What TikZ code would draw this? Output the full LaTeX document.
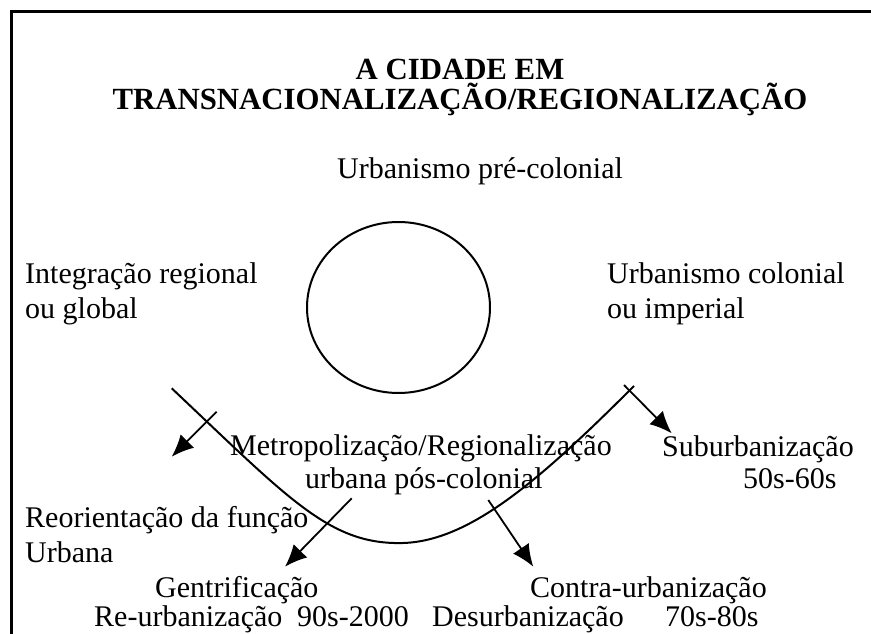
\documentclass[tikz,border=0pt]{standalone}
\usepackage{fontspec}
\setmainfont{Liberation Serif}
\usetikzlibrary{arrows.meta,shapes.geometric}
\begin{document}
\begin{tikzpicture}[x=1pt,y=-1pt,
  txt/.style={inner sep=0pt, anchor=base west, font=\fontsize{30}{35}\selectfont},
  ttl/.style={inner sep=0pt, anchor=base, font=\fontsize{30.8}{36}\selectfont\bfseries},
  arr/.style={line width=1.8pt, -{Latex[length=22pt,width=19pt]}},
  ln/.style={line width=2pt}]
\useasboundingbox (0,0) rectangle (871,634);
% frame
\coordinate (fr1) at (871,11.3);
\coordinate (fr2) at (11.3,11.3);
\coordinate (fr3) at (11.3,634);
\draw[line width=2.7pt] (fr1) -- (fr2) -- (fr3);
% title
\node[ttl] (t1) at (460,80) {A CIDADE EM};
\node[ttl] (t2) at (460,110) {TRANSNACIONALIZAÇÃO/REGIONALIZAÇÃO};
% texts
\node[txt] (pre) at (337,178) {Urbanismo pré-colonial};
\node[txt] (int1) at (25,283) {Integração regional};
\node[txt] (int2) at (25,318) {ou global};
\node[txt] (col1) at (607,283) {Urbanismo colonial};
\node[txt] (col2) at (607,318) {ou imperial};
\node[txt] (met1) at (230,455) {Metropolização/Regionalização};
\node[txt] (met2) at (305,488) {urbana pós-colonial};
\node[txt] (sub1) at (662,456) {Suburbanização};
\node[txt] (sub2) at (743,488) {50s-60s};
\node[txt] (reo1) at (25,527) {Reorientação da função};
\node[txt] (reo2) at (25,562) {Urbana};
\node[txt] (gen1) at (155,597) {Gentrificação};
\node[txt] (gen2) at (94,626) {Re-urbanização};
\node[txt] (gen3) at (297,626) {90s-2000};
\node[txt] (con1) at (530,597) {Contra-urbanização};
\node[txt] (con2) at (432,626) {Desurbanização};
\node[txt] (con3) at (665,626) {70s-80s};
% circle
\node[draw, ellipse, line width=2pt, inner sep=0pt, minimum width=183pt, minimum height=171pt] (circ) at (398.5,307.5) {};
% big curve
\coordinate (cs) at (171.7,388.3);
\coordinate (cb) at (403,543);
\coordinate (ce) at (634,386);
\draw[ln] (cs) .. controls (290,500) and (330,545) .. (cb) .. controls (470,541) and (540,480) .. (ce);
% arrows
\coordinate (a1s) at (216.7,411.7);
\coordinate (a1e) at (171.7,456.7);
\coordinate (a2s) at (351.7,498.3);
\coordinate (a2e) at (285,566.7);
\coordinate (a3s) at (488.3,500);
\coordinate (a3e) at (533.3,566.7);
\coordinate (a4s) at (624,385);
\coordinate (a4e) at (671.7,433.3);
\draw[arr] (a1s) -- (a1e);
\draw[arr] (a2s) -- (a2e);
\draw[arr] (a3s) -- (a3e);
\draw[arr] (a4s) -- (a4e);
\end{tikzpicture}
\end{document}
